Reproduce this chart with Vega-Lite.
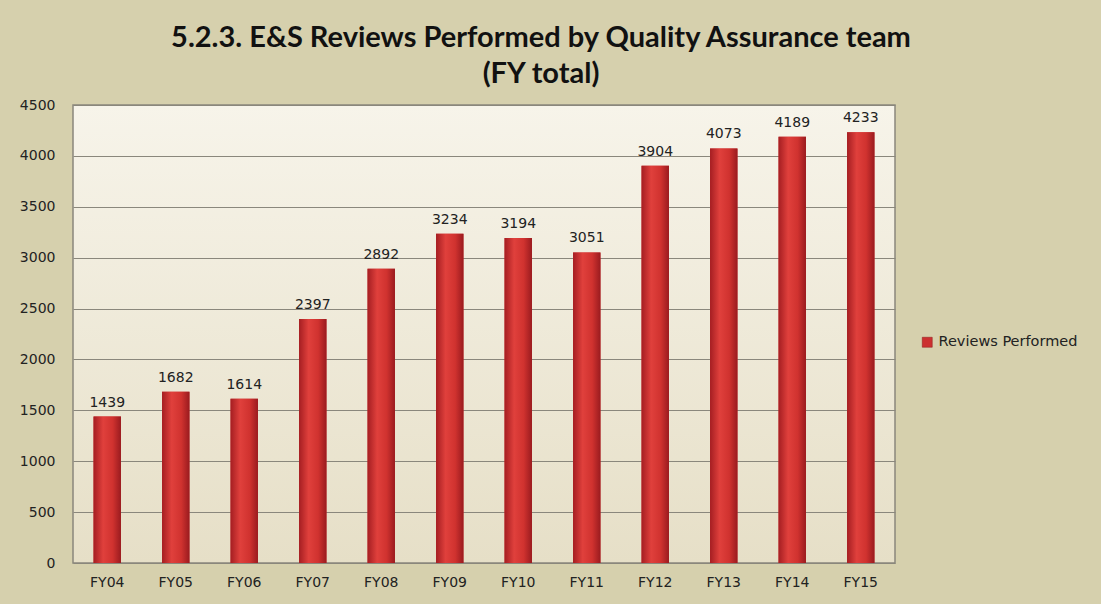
{
  "$schema": "https://vega.github.io/schema/vega-lite/v6.json",
  "width": 822,
  "height": 458,
  "autosize": "none",
  "padding": {"left": 73, "top": 105, "right": 206, "bottom": 41},
  "background": "#d6d0ad",
  "title": {
    "text": ["5.2.3. E&S Reviews Performed by Quality Assurance team", "(FY total)"],
    "font": "Lato",
    "fontSize": 29,
    "fontWeight": "bold",
    "color": "#111111",
    "anchor": "middle",
    "dx": 57,
    "offset": 9,
    "lineHeight": 36
  },
  "config": {
    "view": {
      "stroke": "#8a877c",
      "strokeWidth": 1.5,
      "fill": {"gradient": "linear", "x1": 0, "y1": 0, "x2": 0, "y2": 1, "stops": [{"offset": 0, "color": "#f7f4ea"}, {"offset": 1, "color": "#e6dfc7"}]}
    },
    "axis": {
      "labelFont": "DejaVu Sans",
      "labelFontSize": 14,
      "labelColor": "#222222",
      "domain": false,
      "ticks": false,
      "title": null
    }
  },
  "data": {
    "values": [
      {"fy": "FY04", "value": 1439, "series": "Reviews Performed"},
      {"fy": "FY05", "value": 1682, "series": "Reviews Performed"},
      {"fy": "FY06", "value": 1614, "series": "Reviews Performed"},
      {"fy": "FY07", "value": 2397, "series": "Reviews Performed"},
      {"fy": "FY08", "value": 2892, "series": "Reviews Performed"},
      {"fy": "FY09", "value": 3234, "series": "Reviews Performed"},
      {"fy": "FY10", "value": 3194, "series": "Reviews Performed"},
      {"fy": "FY11", "value": 3051, "series": "Reviews Performed"},
      {"fy": "FY12", "value": 3904, "series": "Reviews Performed"},
      {"fy": "FY13", "value": 4073, "series": "Reviews Performed"},
      {"fy": "FY14", "value": 4189, "series": "Reviews Performed"},
      {"fy": "FY15", "value": 4233, "series": "Reviews Performed"}
    ]
  },
  "encoding": {
    "x": {
      "field": "fy",
      "type": "nominal",
      "sort": null,
      "scale": {"paddingInner": 0.6, "paddingOuter": 0.3},
      "axis": {"labelAngle": 0, "labelPadding": 12, "grid": false}
    },
    "y": {
      "field": "value",
      "type": "quantitative",
      "scale": {"domain": [0, 4500], "nice": false},
      "axis": {"values": [0, 500, 1000, 1500, 2000, 2500, 3000, 3500, 4000, 4500], "format": "d", "grid": true, "gridColor": "#8a877c", "gridOpacity": 1, "gridWidth": 1, "labelPadding": 18}
    }
  },
  "layer": [
    {
      "mark": {"type": "bar"},
      "encoding": {
        "color": {
          "field": "series",
          "type": "nominal",
          "scale": {"range": ["#cc3030"]},
          "legend": {
            "title": null,
            "orient": "none",
            "legendX": 847,
            "legendY": 230,
            "symbolType": "square",
            "symbolSize": 100,
            "symbolStrokeColor": "#8a1a1a",
            "symbolStrokeWidth": 0.5,
            "labelFont": "DejaVu Sans",
            "labelFontSize": 14.5,
            "labelColor": "#222222",
            "labelOffset": 4
          }
        }
      }
    },
    {
      "mark": {
        "type": "bar",
        "color": {"gradient": "linear", "x1": 0, "y1": 0, "x2": 1, "y2": 0, "stops": [{"offset": 0, "color": "#a51e22"}, {"offset": 0.35, "color": "#e0403c"}, {"offset": 0.7, "color": "#d0322f"}, {"offset": 1, "color": "#9a1b1f"}]}
      }
    },
    {
      "mark": {"type": "text", "dy": -14, "font": "DejaVu Sans", "fontSize": 14, "color": "#222222"},
      "encoding": {"text": {"field": "value", "type": "quantitative"}}
    }
  ]
}
